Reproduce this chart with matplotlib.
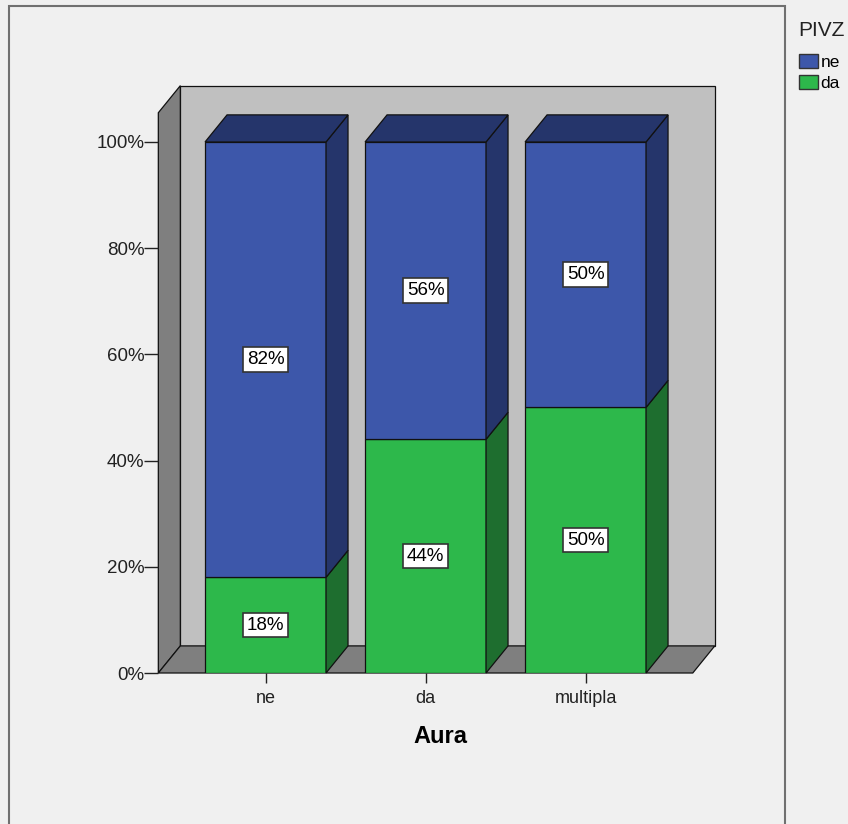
import numpy as np
import matplotlib.pyplot as plt
from matplotlib.patches import Polygon, Rectangle, Patch

plt.rcParams['font.family'] = ['Liberation Sans', 'DejaVu Sans']

# Aura vs PIVZ, column percentages
categories = ['ne', 'da', 'multipla']
pct_da = [18, 44, 50]
pct_ne = [82, 56, 50]
series_names = ['ne', 'da']
yticks = [0, 20, 40, 60, 80, 100]

blue = '#3d57aa'
blue_dark = '#25356b'
green = '#2db84b'
green_dark = '#1e6e2f'
wall_back = '#c0c0c0'
wall_side = '#7f7f7f'
bg = '#f0f0f0'
edge = '#111111'

fig = plt.figure(figsize=(8.48, 8.24), dpi=100, facecolor=bg)
ax = fig.add_axes([0.1867, 0.18325, 0.6642, 0.7218])
ax.set_facecolor('none')
ax.set_xlim(-0.67, 2.85)
ax.set_ylim(0, 112)
for s in ax.spines.values():
    s.set_visible(False)

# depth offset for the fake 3D look
dx, dy = 0.1375, 5.1
x0, x1 = -0.67, 2.67
wall_top = 105.5
width = 0.756

def poly(pts, fc, z):
    ax.add_patch(Polygon(pts, closed=True, fc=fc, ec=edge, lw=0.9, zorder=z,
                         clip_on=False, joinstyle='miter'))

# walls and floor
poly([(x0 + dx, dy), (x1 + dx, dy), (x1 + dx, wall_top + dy), (x0 + dx, wall_top + dy)], wall_back, 1)
poly([(x0, 0), (x0 + dx, dy), (x0 + dx, wall_top + dy), (x0, wall_top)], wall_side, 1.2)
poly([(x0, 0), (x1, 0), (x1 + dx, dy), (x0 + dx, dy)], wall_side, 1.4)

x = np.arange(len(categories))
ax.bar(x, pct_da, width=width, color=green, edgecolor=edge, lw=0.9, zorder=3)
ax.bar(x, pct_ne, width=width, bottom=pct_da, color=blue, edgecolor=edge, lw=0.9, zorder=3)

for i in range(len(categories)):
    xr = x[i] + width / 2
    xl = x[i] - width / 2
    top = pct_da[i] + pct_ne[i]
    # side faces
    poly([(xr, 0), (xr + dx, dy), (xr + dx, pct_da[i] + dy), (xr, pct_da[i])], green_dark, 3)
    poly([(xr, pct_da[i]), (xr + dx, pct_da[i] + dy), (xr + dx, top + dy), (xr, top)], blue_dark, 3)
    # top face
    poly([(xl, top), (xr, top), (xr + dx, top + dy), (xl + dx, top + dy)], blue_dark, 3)

    box = dict(boxstyle='square,pad=0.2', fc='white', ec='#333333', lw=1.2)
    ax.text(x[i], pct_da[i] / 2, f'{pct_da[i]}%', ha='center', va='center',
            fontsize=13.5, bbox=box, zorder=5)
    ax.text(x[i], pct_da[i] + pct_ne[i] / 2, f'{pct_ne[i]}%', ha='center', va='center',
            fontsize=13.5, bbox=box, zorder=5)

ax.set_yticks(yticks)
ax.set_yticklabels([f'{v}%' for v in yticks])
ax.set_xticks(x)
ax.set_xticklabels(categories)
ax.tick_params(axis='y', length=10, width=1, pad=0, labelsize=13.5, colors='#222222')
ax.tick_params(axis='x', length=7, width=1, pad=5.5, labelsize=13, colors='#222222')
ax.set_xlabel('Aura', fontsize=17, fontweight='bold', labelpad=13)

# legend: title placed on its own, swatches below
fig.text(798 / 848, 1 - 30 / 824, 'PIVZ', fontsize=15, ha='left', va='center', color='#222222')
handles = [Patch(facecolor=blue, edgecolor='#333333'), Patch(facecolor=green, edgecolor='#333333')]
fig.legend(handles, series_names, loc='upper left',
           bbox_to_anchor=(799 / 848, 1 - 54 / 824), frameon=False, fontsize=12.5,
           handlelength=1.1, handleheight=0.9, handletextpad=0.15,
           labelspacing=0.25, borderpad=0, borderaxespad=0)

# outer chart frame
fig.add_artist(Rectangle((9 / 848, -0.1), (785 - 9) / 848, 1.1 - 6 / 824,
                         transform=fig.transFigure, fill=False, ec='#707070', lw=1.5))

fig.savefig('out.png', dpi=100, facecolor=bg)
